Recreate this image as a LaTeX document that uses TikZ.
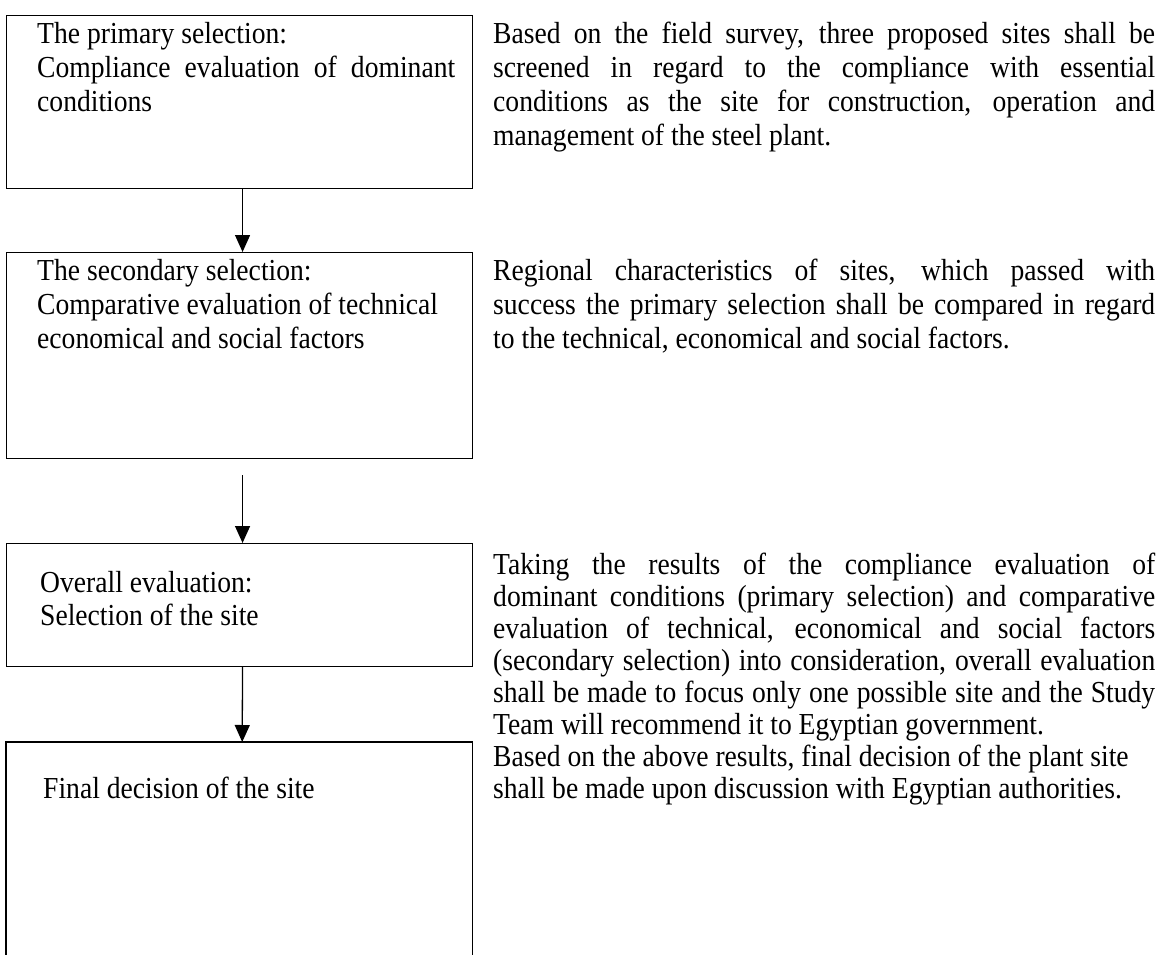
\documentclass[tikz,border=0pt]{standalone}
\usepackage{fontspec}
\setmainfont{Liberation Serif}[FakeStretch=0.905]
\usetikzlibrary{arrows.meta}
% a justified line of fixed width
\newcommand{\jline}[1]{\makebox[662pt][s]{#1}}
\begin{document}
\begin{tikzpicture}[x=1pt,y=-1pt,
  frame/.style={draw, line width=1.1pt, inner sep=0pt, anchor=north west, minimum width=466pt},
  openframe/.style={inner sep=0pt, anchor=north west, minimum width=466pt},
  txt/.style={anchor=base west, inner sep=0pt, font=\fontsize{30.5}{34}\selectfont},
  flow/.style={line width=1.3pt, -{Triangle[length=17pt,width=15pt]}},
]
\useasboundingbox (0,0) rectangle (1162,955);

% ---- flow boxes ----
\node[frame, minimum height=173pt] (b1) at (6,15) {};
\node[frame, minimum height=206pt] (b2) at (6,252) {};
\node[frame, minimum height=123pt] (b3) at (6,543) {};
\node[openframe, minimum height=217pt] (b4) at (6,742) {};
\draw[line width=1.1pt] (b4.south west) -- (b4.north west) -- (b4.north east) -- (b4.south east);

% ---- box texts ----
\node[txt] (t1a) at (37,44) {The primary selection:};
\node[txt] (t1b) at (37,78) {\makebox[418pt][s]{Compliance evaluation of dominant}};
\node[txt] (t1c) at (37,112) {conditions};

\node[txt] (t2a) at (37,280) {The secondary selection:};
\node[txt] (t2b) at (37,314) {Comparative evaluation of technical};
\node[txt] (t2c) at (37,348) {economical and social factors};

\node[txt] (t3a) at (40,592) {Overall evaluation:};
\node[txt] (t3b) at (40,625) {Selection of the site};

\node[txt] (t4a) at (43,798) {Final decision of the site};

% ---- arrows ----
\coordinate (a1s) at ([xshift=3pt]b1.south);
\coordinate (a1e) at ([xshift=3pt]b2.north);
\coordinate (a2s) at ([xshift=3pt,yshift=-16pt]b2.south);
\coordinate (a2e) at ([xshift=3pt]b3.north);
\coordinate (a3s) at ([xshift=3pt]b3.south);
\coordinate (a3e) at ([xshift=3pt]b4.north);
\draw[flow] (a1s) -- (a1e);
\draw[flow] (a2s) -- (a2e);
\draw[flow] (a3s) -- (a3e);

% ---- explanations ----
\node[txt] (p1a) at (493,44) {\jline{Based on the field survey, three proposed sites shall be}};
\node[txt] (p1b) at (493,78) {\jline{screened in regard to the compliance with essential}};
\node[txt] (p1c) at (493,112) {\jline{conditions as the site for construction, operation and}};
\node[txt] (p1d) at (493,146) {management of the steel plant.};

\node[txt] (p2a) at (493,280) {\jline{Regional characteristics of sites, which passed with}};
\node[txt] (p2b) at (493,314) {\jline{success the primary selection shall be compared in regard}};
\node[txt] (p2c) at (493,348) {to the technical, economical and social factors.};

\node[txt] (p3a) at (493,574) {\jline{Taking the results of the compliance evaluation of}};
\node[txt] (p3b) at (493,606) {\jline{dominant conditions (primary selection) and comparative}};
\node[txt] (p3c) at (493,638) {\jline{evaluation of technical, economical and social factors}};
\node[txt] (p3d) at (493,670) {\jline{(secondary selection) into consideration, overall evaluation}};
\node[txt] (p3e) at (493,702) {\jline{shall be made to focus only one possible site and the Study}};
\node[txt] (p3f) at (493,734) {Team will recommend it to Egyptian government.};
\node[txt] (p3g) at (493,766) {Based on the above results, final decision of the plant site};
\node[txt] (p3h) at (493,798) {shall be made upon discussion with Egyptian authorities.};
\end{tikzpicture}
\end{document}
